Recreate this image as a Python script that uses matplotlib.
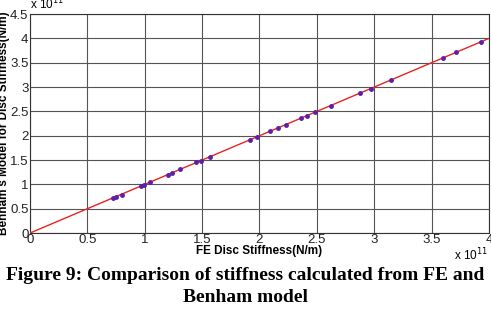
import numpy as np
import matplotlib
matplotlib.use("Agg")
import matplotlib.pyplot as plt
from matplotlib.ticker import FuncFormatter

plt.rcParams['font.family'] = ['Liberation Sans', 'DejaVu Sans']

# FE stiffness vs Benham model stiffness (units of 1e11 N/m)
fe_stiff = [0.72, 0.75, 0.80, 0.97, 0.99, 1.05, 1.20, 1.24, 1.31, 1.45, 1.49, 1.57,
            1.92, 1.98, 2.09, 2.16, 2.23, 2.36, 2.41, 2.48, 2.62, 2.88, 2.97, 3.15,
            3.60, 3.71, 3.93]
benham_stiff = [0.72, 0.75, 0.79, 0.97, 0.99, 1.05, 1.20, 1.24, 1.31, 1.45, 1.49, 1.57,
                1.92, 1.98, 2.09, 2.16, 2.23, 2.36, 2.41, 2.48, 2.62, 2.88, 2.97, 3.14,
                3.60, 3.71, 3.93]
fit_x = [0, 4]
fit_y = [0, 4]

fig = plt.figure(figsize=(4.91, 3.12), dpi=100)
ax = fig.add_axes([0.061, 0.253, 0.935, 0.702])

ax.plot(fit_x, fit_y, color="#ee2020", lw=1.0, zorder=3)
ax.plot(fe_stiff, benham_stiff, ls="none", marker="o", ms=2.5,
        color="#5a20a8", zorder=4)

ax.set_xlim(0, 4)
ax.set_ylim(0, 4.5)
ax.set_xticks(np.arange(0, 4.01, 0.5))
ax.set_yticks(np.arange(0, 4.51, 0.5))
fmt = FuncFormatter(lambda v, p: "%g" % v)
ax.xaxis.set_major_formatter(fmt)
ax.yaxis.set_major_formatter(fmt)
ax.grid(True, color="#555555", lw=0.8)
ax.tick_params(labelsize=9.5, length=0, pad=1, colors="#222222")
for s in ax.spines.values():
    s.set_linewidth(0.8)
    s.set_color("#333333")

ax.set_xlabel("FE Disc Stiffness(N/m)", fontsize=8.5, fontweight="bold", labelpad=-1)
ax.set_ylabel("Benham's Model for Disc Stiffness(N/m)", fontsize=8.5,
              fontweight="bold", labelpad=0)

fig.text(0.062, 0.962, r"x 10$^{11}$", fontsize=8.5, va="bottom", ha="left")
fig.text(0.995, 0.155, r"x 10$^{11}$", fontsize=8.5, va="bottom", ha="right")

fig.text(0.5, 0.118, "Figure 9: Comparison of stiffness calculated from FE and",
         family="Liberation Serif", fontweight="bold", fontsize=14, ha="center", va="center")
fig.text(0.5, 0.045, "Benham model",
         family="Liberation Serif", fontweight="bold", fontsize=14, ha="center", va="center")

fig.savefig("out.png", dpi=100)
